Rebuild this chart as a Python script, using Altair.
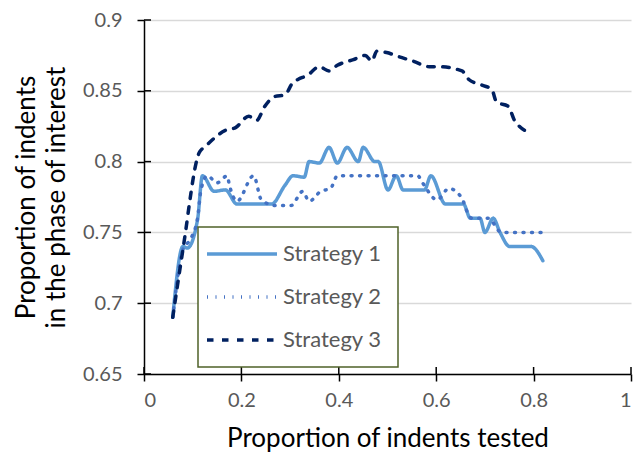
import altair as alt
import pandas as pd

series = ["Strategy 1", "Strategy 2", "Strategy 3"]
colors = ["#5B9BD5", "#4472C4", "#002060"]

s1_x = [0.059, 0.080, 0.089, 0.110, 0.120, 0.144, 0.167, 0.191, 0.262, 0.289, 0.306, 0.329, 0.339, 0.360,
        0.380, 0.397, 0.417, 0.440, 0.450, 0.474, 0.481, 0.501, 0.518, 0.532, 0.576, 0.589, 0.619, 0.656,
        0.670, 0.690, 0.700, 0.717, 0.731, 0.751, 0.795, 0.819]
s1_y = [0.690, 0.740, 0.739, 0.759, 0.790, 0.779, 0.780, 0.770, 0.770, 0.783, 0.790, 0.789, 0.800, 0.799,
        0.810, 0.799, 0.810, 0.800, 0.810, 0.800, 0.800, 0.780, 0.790, 0.780, 0.780, 0.790, 0.770, 0.770,
        0.760, 0.760, 0.750, 0.760, 0.750, 0.740, 0.740, 0.730]

s2_x = [0.059, 0.080, 0.095, 0.110, 0.117, 0.130, 0.150, 0.171, 0.175, 0.191, 0.225, 0.241, 0.269, 0.302,
        0.326, 0.339, 0.363, 0.383, 0.397, 0.562, 0.572, 0.602, 0.626, 0.653, 0.663, 0.673, 0.707, 0.734,
        0.819]
s2_y = [0.690, 0.738, 0.745, 0.760, 0.780, 0.790, 0.785, 0.790, 0.784, 0.772, 0.790, 0.773, 0.769, 0.769,
        0.779, 0.772, 0.779, 0.781, 0.790, 0.790, 0.785, 0.773, 0.781, 0.774, 0.765, 0.760, 0.760, 0.750,
        0.750]

s3_x = [0.059, 0.080, 0.113, 0.127, 0.167, 0.188, 0.215, 0.231, 0.248, 0.269, 0.289, 0.306, 0.316, 0.336,
        0.360, 0.380, 0.397, 0.430, 0.454, 0.468, 0.478, 0.498, 0.524, 0.552, 0.586, 0.606, 0.653, 0.667,
        0.694, 0.714, 0.724, 0.748, 0.761, 0.795]
s3_y = [0.690, 0.738, 0.806, 0.811, 0.822, 0.824, 0.832, 0.829, 0.839, 0.846, 0.847, 0.856, 0.858, 0.861,
        0.867, 0.864, 0.868, 0.872, 0.875, 0.871, 0.878, 0.877, 0.874, 0.871, 0.867, 0.867, 0.864, 0.858,
        0.854, 0.851, 0.842, 0.839, 0.829, 0.820]

x_ticks = [0, 0.2, 0.4, 0.6, 0.8, 1]
y_ticks = [0.65, 0.7, 0.75, 0.8, 0.85, 0.9]

rows = []
for name, xs, ys in [(series[0], s1_x, s1_y), (series[1], s2_x, s2_y), (series[2], s3_x, s3_y)]:
    for i, (x, y) in enumerate(zip(xs, ys)):
        rows.append({"series": name, "x": x, "y": y, "order": i})
df = pd.DataFrame(rows)

FONT = "Lato"
W, H = 487, 354

xscale = alt.Scale(domain=[0, 1], nice=False, zero=False)
yscale = alt.Scale(domain=[0.65, 0.9], nice=False, zero=False)

lines = alt.Chart(df).mark_line(strokeWidth=3.5, strokeCap="round", strokeJoin="round",
                                interpolate="monotone").encode(
    x=alt.X("x:Q", scale=xscale,
            axis=alt.Axis(values=x_ticks, format="~g", title="Proportion of indents tested", grid=False,
                          tickSize=7, labelPadding=9, titlePadding=15)),
    y=alt.Y("y:Q", scale=yscale,
            axis=alt.Axis(values=y_ticks, format="~g",
                          title=["Proportion of indents", "in the phase of interest"],
                          grid=True, tickSize=7, labelPadding=15, titlePadding=13)),
    color=alt.Color("series:N", scale=alt.Scale(domain=series, range=colors),
                    legend=alt.Legend(title=None)),
    strokeDash=alt.StrokeDash("series:N", scale=alt.Scale(domain=series, range=[[1, 0], [1, 7.5], [6.5, 8.5]]),
                              legend=alt.Legend(title=None)),
    order="order:Q",
)

xt = pd.DataFrame({"t": x_ticks})
yt = pd.DataFrame({"t": y_ticks})
xin = alt.Chart(xt).mark_rule(color="black", strokeWidth=1.5).encode(
    x=alt.X("t:Q", scale=xscale), y=alt.value(H - 7), y2=alt.value(H))
yin = alt.Chart(yt).mark_rule(color="black", strokeWidth=1.5).encode(
    y=alt.Y("t:Q", scale=yscale), x=alt.value(0), x2=alt.value(7))

chart = alt.layer(lines, xin, yin).properties(
    width=W, height=H,
    autosize=alt.AutoSizeParams(type="none"),
    padding={"left": 136, "top": 12, "right": 4, "bottom": 79},
).configure_view(stroke=None).configure_axis(
    labelFont=FONT, titleFont=FONT, labelFontSize=20, titleFontSize=26,
    labelColor="#595959", titleColor="#000000", titleFontWeight="normal",
    domainColor="#000000", domainWidth=1.5, tickColor="#000000", tickWidth=1.5,
    gridColor="#D9D9D9", gridWidth=1.5, titleLineHeight=30,
).configure_legend(
    orient="none", legendX=54, legendY=207,
    strokeColor="#4F6228", fillColor="#FFFFFF", strokeWidth=1.5,
    padding=16, labelFont=FONT, labelFontSize=22, labelColor="#595959",
    symbolType="M-5,0H5", symbolSize=196, symbolStrokeWidth=3.5, symbolOffset=17,
    labelOffset=30, rowPadding=21,
)

chart.save("out.html", embed_options={"renderer": "svg", "actions": False})
